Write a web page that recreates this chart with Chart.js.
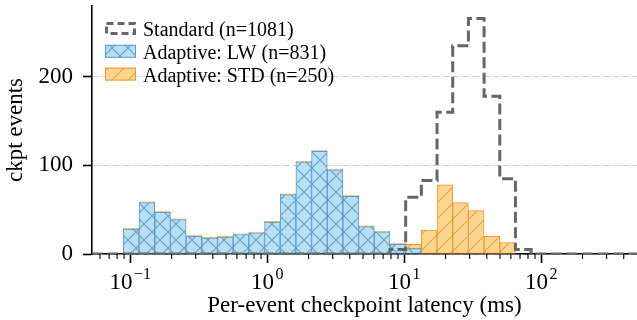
<!DOCTYPE html>
<html lang="en">
<head>
  <meta charset="UTF-8">
  <title>Per-event checkpoint latency</title>
  <script src="https://cdn.jsdelivr.net/npm/chart.js"></script>
  <style>
    body {
      margin: 0;
      background: #fff;
    }

    .chart-box {
      width: 637px;
      height: 320px;
    }
  </style>
</head>
<body>

  <div class="chart-box">
    <canvas id="latencyChart"></canvas>
  </div>

  <script>
    // log-spaced histogram bin edges (ms), 35 bins
    const binEdges = [
      0.05248, 0.06831, 0.08892, 0.1157, 0.1507, 0.1961, 0.2553, 0.3323, 0.4325,
      0.5630, 0.7328, 0.9539, 1.2417, 1.6163, 2.1038, 2.7384, 3.5645, 4.6398,
      6.0395, 7.8614, 10.233, 13.320, 17.338, 22.569, 29.378, 38.238, 49.774,
      64.790, 84.333, 109.77, 142.89, 186.0, 242.10, 315.10, 410.2, 533.9
    ];

    const standardCounts = [
      0, 0, 0, 0, 0, 0, 0, 0, 0, 0, 0, 0, 0, 0, 0, 0, 0, 0, 0,
      5, 64, 83, 160, 235, 266, 178, 85, 5,
      0, 0, 0, 0, 0, 0, 0
    ];
    const lwCounts = [
      0, 0, 28, 58, 47, 39, 20, 18, 19, 22, 24, 36, 67, 104, 116, 95, 65, 31, 25,
      11, 6,
      0, 0, 0, 0, 0, 0, 0, 0, 0, 0, 0, 0, 0, 0
    ];
    const stdCounts = [
      0, 0, 0, 0, 0, 0, 0, 0, 0, 0, 0, 0, 0, 0, 0, 0, 0, 0, 0, 0,
      5, 27, 78, 58, 49, 20, 13,
      0, 0, 0, 0, 0, 0, 0, 0
    ];

    const seriesLabels = ["Standard (n=1081)", "Adaptive: LW (n=831)", "Adaptive: STD (n=250)"];

    const yTicks = [0, 100, 200];
    const xMajorTicks = [0.1, 1, 10, 100];
    const xTickExponents = ["\u22121", "0", "1", "2"];
    const xMinorTicks = [
      0.06, 0.07, 0.08, 0.09,
      0.2, 0.3, 0.4, 0.5, 0.6, 0.7, 0.8, 0.9,
      2, 3, 4, 5, 6, 7, 8, 9,
      20, 30, 40, 50, 60, 70, 80, 90,
      200, 300, 400
    ];

    const fontFamily = "'Liberation Serif', 'Times New Roman', serif";
    Chart.defaults.font.family = fontFamily;
    Chart.defaults.color = "#000";

    // hatch fills like matplotlib's "xx" and "//"
    function makeHatch(bg, line, cross) {
      const size = 16;
      const c = document.createElement("canvas");
      c.width = c.height = size;
      const g = c.getContext("2d");
      g.fillStyle = bg;
      g.fillRect(0, 0, size, size);
      g.strokeStyle = line;
      g.lineWidth = 1.1;
      g.beginPath();
      for (const o of [-size, 0, size]) {
        g.moveTo(o, size);
        g.lineTo(o + size, 0);
        if (cross) {
          g.moveTo(o, 0);
          g.lineTo(o + size, size);
        }
      }
      g.stroke();
      return g.createPattern(c, "repeat");
    }

    const lwFill = makeHatch("#b9dff2", "#5d9fcd", true);
    const stdFill = makeHatch("#fdd491", "#eca440", false);

    // bars sit at the geometric centre of each bin
    const binCenters = binEdges.slice(0, -1).map((e, i) => Math.sqrt(e * binEdges[i + 1]));

    const standardData = standardCounts.map((c, i) => ({ x: binEdges[i], y: c }));
    standardData.push({ x: binEdges[binEdges.length - 1], y: 0 });

    const lwData = binCenters.map((x, i) => ({ x: x, y: lwCounts[i] }));
    const stdData = binCenters.map((x, i) => ({
      x: x,
      y: lwCounts[i] + stdCounts[i] > 0 ? stdCounts[i] : null
    }));

    // minor ticks and 10^n labels on the x axis
    const axisDecor = {
      id: "axisDecor",
      afterDraw(chart) {
        const { ctx, chartArea } = chart;
        const x = chart.scales.x;
        ctx.save();
        ctx.strokeStyle = "#000";
        ctx.lineWidth = 1.1;
        xMinorTicks.forEach(v => {
          const px = x.getPixelForValue(v);
          if (px < chartArea.left || px > chartArea.right) return;
          ctx.beginPath();
          ctx.moveTo(px, chartArea.bottom);
          ctx.lineTo(px, chartArea.bottom + 5);
          ctx.stroke();
        });

        ctx.fillStyle = "#000";
        ctx.textAlign = "left";
        ctx.textBaseline = "alphabetic";
        xMajorTicks.forEach((v, i) => {
          const sup = xTickExponents[i];
          ctx.font = "23px " + fontFamily;
          const wBase = ctx.measureText("10").width;
          ctx.font = "16px " + fontFamily;
          const wSup = ctx.measureText(sup).width;
          const left = x.getPixelForValue(v) - (wBase + 1.5 + wSup) / 2;
          ctx.font = "23px " + fontFamily;
          ctx.fillText("10", left, x.top + 35);
          ctx.font = "16px " + fontFamily;
          ctx.fillText(sup, left + wBase + 1.5, x.top + 25);
        });
        ctx.restore();
      }
    };

    // legend in the upper left of the plot, no frame
    const legendBox = {
      id: "legendBox",
      afterDraw(chart) {
        const { ctx, chartArea } = chart;
        ctx.save();
        ctx.font = "20px " + fontFamily;
        ctx.textAlign = "left";
        ctx.textBaseline = "alphabetic";
        chart.data.datasets.forEach((ds, i) => {
          const bx = chartArea.left + 13;
          const by = chartArea.top + 16 + i * 22.8;
          if (ds.type === "line") {
            ctx.setLineDash([7, 4]);
            ctx.lineWidth = 3;
            ctx.strokeStyle = ds.borderColor;
            ctx.strokeRect(bx + 1.5, by + 1.5, 28, 10);
            ctx.setLineDash([]);
          } else {
            ctx.fillStyle = ds.backgroundColor;
            ctx.fillRect(bx, by, 31, 13);
            ctx.lineWidth = 1;
            ctx.strokeStyle = ds.borderColor;
            ctx.strokeRect(bx + 0.5, by + 0.5, 30, 12);
          }
          ctx.fillStyle = "#000";
          ctx.fillText(ds.label, chartArea.left + 51, by + 14);
        });
        ctx.restore();
      }
    };

    const ctx = document.getElementById("latencyChart").getContext("2d");

    new Chart(ctx, {
      type: "bar",
      data: {
        datasets: [
          {
            type: "line",
            label: seriesLabels[0],
            data: standardData,
            stepped: true,
            borderColor: "#666666",
            borderWidth: 3,
            borderDash: [11, 4.5],
            pointRadius: 0,
            fill: false,
            stack: "standard"
          },
          {
            label: seriesLabels[1],
            data: lwData,
            backgroundColor: lwFill,
            borderColor: "#5b9cc9",
            borderWidth: 1,
            borderSkipped: false,
            stack: "adaptive"
          },
          {
            label: seriesLabels[2],
            data: stdData,
            backgroundColor: stdFill,
            borderColor: "#e89c30",
            borderWidth: 1,
            borderSkipped: false,
            minBarLength: 1.5,
            stack: "adaptive"
          }
        ]
      },
      options: {
        responsive: true,
        maintainAspectRatio: false,
        animation: false,
        grouped: false,
        barPercentage: 1,
        categoryPercentage: 1,
        layout: { padding: { top: 6, right: 0, bottom: 0, left: 0 } },
        plugins: {
          legend: { display: false },
          tooltip: { enabled: false }
        },
        scales: {
          x: {
            type: "logarithmic",
            min: 0.05248,
            max: 500,
            offset: false,
            afterBuildTicks: scale => {
              scale.ticks = xMajorTicks.map(v => ({ value: v }));
            },
            afterFit: scale => {
              scale.height = 66;
              scale.paddingLeft = 0;
              scale.paddingRight = 0;
            },
            ticks: { display: false },
            grid: {
              offset: false,
              drawOnChartArea: false,
              drawTicks: true,
              tickLength: 9,
              tickWidth: 1.6,
              tickColor: "#000"
            },
            border: { display: true, color: "#000", width: 1.6 },
            title: {
              display: true,
              text: "Per-event checkpoint latency (ms)",
              font: { size: 23 },
              padding: { top: 0, bottom: 0 }
            }
          },
          y: {
            stacked: true,
            min: 0,
            max: 280,
            afterBuildTicks: scale => {
              scale.ticks = yTicks.map(v => ({ value: v }));
            },
            afterFit: scale => {
              scale.width = 92;
              scale.paddingTop = 0;
              scale.paddingBottom = 0;
            },
            ticks: {
              font: { size: 23 },
              padding: 10
            },
            grid: {
              color: "#cfcfcf",
              lineWidth: 1,
              tickLength: 9,
              tickWidth: 1.6,
              tickColor: "#000"
            },
            border: { display: true, color: "#000", width: 1.6, dash: [7, 3] },
            title: {
              display: true,
              text: "ckpt events",
              font: { size: 23 },
              padding: { top: 2, bottom: 0 }
            }
          }
        }
      },
      plugins: [axisDecor, legendBox]
    });
  </script>

</body>
</html>
